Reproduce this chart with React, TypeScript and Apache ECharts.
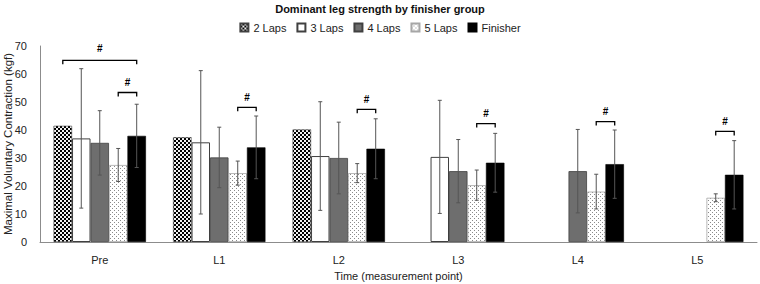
import React, { useEffect, useRef } from "react";
import * as echarts from "echarts";

// Measurement points and group means / standard deviations (kgf)
const categories = ["Pre", "L1", "L2", "L3", "L4", "L5"];
const groupNames = ["2 Laps", "3 Laps", "4 Laps", "5 Laps", "Finisher"];

const laps2Mean = [41.5, 37.4, 40.2, null, null, null];
const laps2Sd = [null, null, null, null, null, null];
const laps3Mean = [37.0, 35.6, 30.7, 30.4, null, null];
const laps3Sd = [24.9, 25.6, 19.4, 20.2, null, null];
const laps4Mean = [35.4, 30.2, 30.0, 25.3, 25.3, null];
const laps4Sd = [11.5, 10.8, 12.8, 11.3, 14.9, null];
const laps5Mean = [27.5, 24.6, 24.6, 20.3, 18.0, 15.8];
const laps5Sd = [5.9, 4.3, 3.4, 5.4, 6.2, 1.4];
const finisherMean = [37.9, 33.8, 33.3, 28.3, 27.8, 24.0];
const finisherSd = [11.3, 11.2, 10.7, 10.5, 12.2, 12.2];

// Significance brackets: [category, level, from group, to group]
const sigBrackets = [
  [0, 64.9, 0, 4],
  [0, 53.4, 3, 4],
  [1, 48.1, 3, 4],
  [2, 47.4, 3, 4],
  [3, 42.3, 3, 4],
  [4, 43.0, 3, 4],
  [5, 39.5, 3, 4],
];

const yTicks = { min: 0, max: 70, interval: 10 };

const CAT_GAP = 0.227;
const N_GROUPS = 5;

function makeTile(draw: (ctx: CanvasRenderingContext2D) => void, size: number) {
  const c = document.createElement("canvas");
  c.width = size;
  c.height = size;
  const ctx = c.getContext("2d")!;
  draw(ctx);
  return c;
}

function slotOffset(api: any, slot: number) {
  const band = api.size([1, 0])[0];
  const barW = (band * (1 - CAT_GAP)) / N_GROUPS;
  return { barW, dx: (slot - (N_GROUPS - 1) / 2) * barW };
}

function errorRenderer(slot: number) {
  return (_params: any, api: any) => {
    const c = api.value(0);
    const m = api.value(1);
    const s = api.value(2);
    const { dx } = slotOffset(api, slot);
    const x = api.coord([c, m])[0] + dx;
    const yTop = api.coord([c, m + s])[1];
    const yBot = api.coord([c, m - s])[1];
    const style = { stroke: "#555555", lineWidth: 1 };
    const cap = 2;
    return {
      type: "group",
      children: [
        { type: "line", shape: { x1: x, y1: yTop, x2: x, y2: yBot }, style },
        { type: "line", shape: { x1: x - cap, y1: yTop, x2: x + cap, y2: yTop }, style },
        { type: "line", shape: { x1: x - cap, y1: yBot, x2: x + cap, y2: yBot }, style },
      ],
    };
  };
}

function bracketRenderer(_params: any, api: any) {
  const c = api.value(0);
  const lvl = api.value(1);
  const from = api.value(2);
  const to = api.value(3);
  const x1 = api.coord([c, lvl])[0] + slotOffset(api, from).dx;
  const x2 = api.coord([c, lvl])[0] + slotOffset(api, to).dx;
  const y = api.coord([c, lvl])[1];
  const wide = to - from > 1;
  return {
    type: "group",
    children: [
      {
        type: "polyline",
        shape: { points: [[x1, y + 4], [x1, y], [x2, y], [x2, y + 4]] },
        style: { stroke: "#000", lineWidth: 1.3, fill: "none" },
      },
      {
        type: "text",
        style: {
          text: "#",
          x: (x1 + x2) / 2,
          y: y - (wide ? 12 : 10),
          align: "center",
          verticalAlign: "middle",
          fontFamily: "Liberation Sans",
          fontWeight: "bold",
          fontSize: 10,
          fill: "#000",
        },
      },
    ],
  };
}

function errData(mean: (number | null)[], sd: (number | null)[]) {
  const rows: number[][] = [];
  mean.forEach((m, i) => {
    const s = sd[i];
    if (m != null && s != null) rows.push([i, m, s]);
  });
  return rows;
}

export default function App() {
  const ref = useRef<HTMLDivElement>(null);

  useEffect(() => {
    if (!ref.current) return;
    const chart = echarts.init(ref.current, null, { renderer: "svg" });

    const checker = makeTile((ctx) => {
      ctx.fillStyle = "#000";
      ctx.fillRect(0, 0, 4, 4);
      ctx.fillStyle = "#f2f2f2";
      ctx.fillRect(0, 0, 2, 2);
      ctx.fillRect(2, 2, 2, 2);
    }, 4);
    const dotted = makeTile((ctx) => {
      ctx.fillStyle = "#fff";
      ctx.fillRect(0, 0, 4, 4);
      ctx.fillStyle = "#8a8a8a";
      ctx.fillRect(0, 0, 1, 1);
      ctx.fillRect(2, 2, 1, 1);
    }, 4);

    const barStyles = [
      { color: { image: checker, repeat: "repeat" }, borderColor: "#404040", borderWidth: 0.6 },
      { color: "#ffffff", borderColor: "#404040", borderWidth: 1 },
      { color: "#6e6e6e", borderColor: "#404040", borderWidth: 0.8 },
      { color: { image: dotted, repeat: "repeat" }, borderColor: "#a6a6a6", borderWidth: 0.8 },
      { color: "#000000", borderColor: "#000000", borderWidth: 0.6 },
    ];
    const means = [laps2Mean, laps3Mean, laps4Mean, laps5Mean, finisherMean];
    const sds = [laps2Sd, laps3Sd, laps4Sd, laps5Sd, finisherSd];

    const barSeries = groupNames.map((name, i) => ({
      name,
      type: "bar",
      data: means[i].map((v) => (v == null ? "-" : v)),
      barGap: "0%",
      barCategoryGap: `${CAT_GAP * 100}%`,
      itemStyle: barStyles[i],
      z: 2,
    }));

    const errSeries = groupNames.map((name, i) => ({
      type: "custom",
      name: name + " SD",
      renderItem: errorRenderer(i),
      data: errData(means[i], sds[i]),
      encode: { x: 0, y: 1 },
      z: 3,
      silent: true,
    }));

    chart.setOption({
      animation: false,
      backgroundColor: "#ffffff",
      title: {
        text: "Dominant leg strength by finisher group",
        left: "center",
        top: 0,
        padding: [3, 5],
        textStyle: {
          fontFamily: "Liberation Sans",
          fontWeight: "bold",
          fontSize: 11,
          color: "#111",
        },
      },
      legend: {
        data: groupNames,
        top: 17,
        left: "center",
        itemWidth: 8,
        itemHeight: 8,
        itemGap: 10,
        icon: "rect",
        textStyle: { fontFamily: "Liberation Sans", fontSize: 11, color: "#222" },
      },
      grid: { left: 40, right: 3, top: 46, bottom: 42, outerBoundsMode: "none" },
      xAxis: {
        type: "category",
        data: categories,
        name: "Time (measurement point)",
        nameLocation: "middle",
        nameGap: 28,
        nameMoveOverlap: false,
        nameTextStyle: { fontFamily: "Liberation Sans", fontSize: 11, color: "#222" },
        axisLine: { lineStyle: { color: "#8c8c8c", width: 1 } },
        axisTick: { show: false },
        axisLabel: { margin: 12, fontFamily: "Liberation Sans", fontSize: 11, color: "#222" },
      },
      yAxis: {
        type: "value",
        min: yTicks.min,
        max: yTicks.max,
        interval: yTicks.interval,
        name: "Maximal Voluntary Contraction (kgf)",
        nameLocation: "middle",
        nameGap: 26,
        nameMoveOverlap: false,
        nameTextStyle: { fontFamily: "Liberation Sans", fontSize: 11.5, color: "#222" },
        axisLine: { show: true, lineStyle: { color: "#8c8c8c", width: 1 } },
        axisTick: { show: false },
        splitLine: { show: false },
        axisLabel: { margin: 13, fontFamily: "Liberation Sans", fontSize: 11, color: "#222" },
      },
      series: [
        ...barSeries,
        ...errSeries,
        {
          type: "custom",
          name: "significance",
          renderItem: bracketRenderer,
          data: sigBrackets,
          encode: { x: 0, y: 1 },
          z: 4,
          silent: true,
        },
      ],
    });

    return () => chart.dispose();
  }, []);

  return (
    <div
      ref={ref}
      style={{ position: "fixed", left: 0, top: 0, width: 760, height: 284, background: "#fff" }}
    />
  );
}
